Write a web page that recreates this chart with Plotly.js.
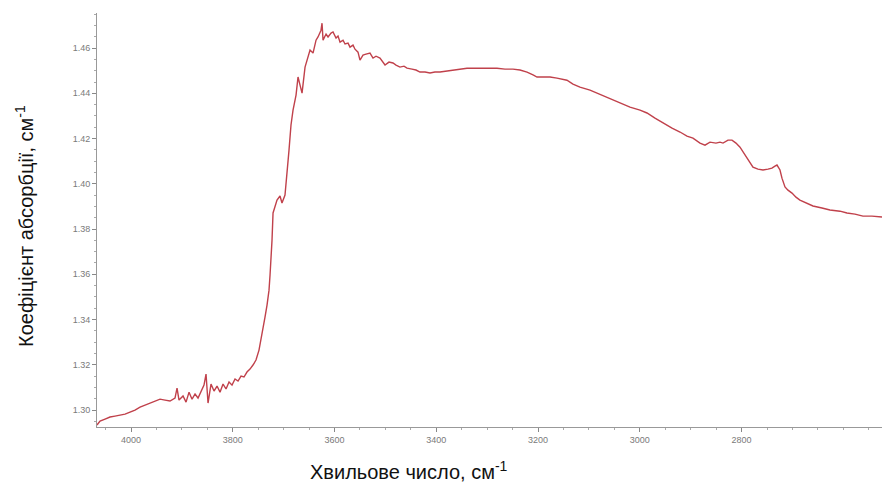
<!DOCTYPE html>
<html>
<head>
<meta charset="utf-8">
<script src="https://cdn.plot.ly/plotly-3.0.1.min.js"></script>
<style>
  html, body { margin: 0; padding: 0; background: #ffffff; }
  #chart { width: 882px; height: 483px; }
</style>
</head>
<body>
<div id="chart"></div>
<script>
// Wavenumber, cm^-1
const wavenumber = [
  4066.9, 4060.9, 4051.1, 4041.3, 4031.5, 4021.7, 4011.8, 4002.0, 3992.2, 3982.3,
  3972.5, 3962.7, 3952.9, 3943.0, 3933.2, 3923.4, 3913.6, 3909.6, 3905.7, 3897.8,
  3891.9, 3886.0, 3880.1, 3874.2, 3868.3, 3862.5, 3856.6, 3852.6, 3848.7, 3842.8,
  3836.9, 3831.0, 3825.1, 3819.2, 3813.3, 3807.4, 3801.5, 3795.6, 3789.7, 3783.8,
  3778.0, 3772.1, 3766.2, 3760.3, 3754.4, 3748.5, 3744.5, 3740.6, 3736.7, 3732.7,
  3728.8, 3726.8, 3724.9, 3722.9, 3720.9, 3717.0, 3713.1, 3707.2, 3703.3, 3697.4,
  3693.4, 3689.5, 3685.6, 3681.6, 3675.7, 3671.8, 3667.8, 3663.9, 3658.0, 3652.1,
  3648.2, 3642.3, 3636.4, 3632.5, 3626.6, 3624.6, 3622.6, 3616.7, 3612.8, 3606.9,
  3603.0, 3597.1, 3593.2, 3589.2, 3583.3, 3579.4, 3573.5, 3569.6, 3563.7, 3559.8,
  3553.9, 3550.0, 3544.1, 3538.2, 3530.3, 3524.4, 3518.5, 3510.7, 3504.8, 3500.8,
  3493.0, 3485.1, 3479.2, 3471.4, 3463.5, 3457.6, 3447.8, 3440.0, 3432.1, 3422.2,
  3412.4, 3402.7, 3392.7, 3379.0, 3367.2, 3353.4, 3339.7, 3325.9, 3314.1, 3298.4,
  3280.7, 3265.0, 3249.3, 3235.5, 3221.7, 3209.9, 3202.1, 3192.3, 3176.5, 3162.8,
  3151.0, 3143.2, 3131.4, 3117.7, 3097.9, 3084.2, 3064.5, 3042.9, 3019.3, 2999.6,
  2985.9, 2970.2, 2954.4, 2936.7, 2921.0, 2907.3, 2895.5, 2881.7, 2871.9, 2862.1,
  2850.3, 2842.4, 2836.5, 2826.7, 2818.8, 2811.0, 2803.1, 2795.2, 2789.4, 2783.5,
  2777.6, 2767.8, 2757.9, 2748.1, 2740.3, 2734.4, 2730.4, 2724.5, 2720.6, 2714.7,
  2708.8, 2700.9, 2693.1, 2685.3, 2673.5, 2659.7, 2642.0, 2626.3, 2606.6, 2592.9,
  2577.2, 2561.4, 2543.7, 2524.0
];
// Absorption coefficient, cm^-1
const absorption = [
  1.2934, 1.2951, 1.2960, 1.2969, 1.2973, 1.2978, 1.2982, 1.2991, 1.3000, 1.3013,
  1.3022, 1.3031, 1.3040, 1.3048, 1.3044, 1.3040, 1.3053, 1.3097, 1.3044, 1.3062,
  1.3035, 1.3079, 1.3048, 1.3071, 1.3053, 1.3084, 1.3110, 1.3159, 1.3031, 1.3115,
  1.3084, 1.3106, 1.3079, 1.3115, 1.3093, 1.3124, 1.3110, 1.3137, 1.3128, 1.3150,
  1.3146, 1.3168, 1.3181, 1.3199, 1.3221, 1.3265, 1.3309, 1.3353, 1.3411, 1.3464,
  1.3530, 1.3597, 1.3663, 1.3751, 1.3871, 1.3906, 1.3928, 1.3946, 1.3915, 1.3950,
  1.4039, 1.4149, 1.4260, 1.4326, 1.4392, 1.4472, 1.4436, 1.4401, 1.4516, 1.4556,
  1.4591, 1.4578, 1.4635, 1.4649, 1.4679, 1.4710, 1.4635, 1.4662, 1.4649, 1.4666,
  1.4671, 1.4644, 1.4653, 1.4626, 1.4635, 1.4618, 1.4622, 1.4604, 1.4613, 1.4595,
  1.4582, 1.4547, 1.4569, 1.4573, 1.4578, 1.4556, 1.4564, 1.4556, 1.4534, 1.4525,
  1.4538, 1.4534, 1.4525, 1.4516, 1.4520, 1.4511, 1.4507, 1.4503, 1.4494, 1.4494,
  1.4490, 1.4494, 1.4494, 1.4498, 1.4503, 1.4507, 1.4511, 1.4511, 1.4511, 1.4511,
  1.4511, 1.4507, 1.4507, 1.4503, 1.4494, 1.4481, 1.4472, 1.4472, 1.4472, 1.4467,
  1.4463, 1.4458, 1.4441, 1.4427, 1.4414, 1.4401, 1.4379, 1.4361, 1.4339, 1.4326,
  1.4313, 1.4290, 1.4268, 1.4246, 1.4229, 1.4211, 1.4202, 1.4180, 1.4171, 1.4184,
  1.4180, 1.4184, 1.4180, 1.4193, 1.4193, 1.4180, 1.4162, 1.4136, 1.4114, 1.4092,
  1.4074, 1.4065, 1.4061, 1.4065, 1.4069, 1.4078, 1.4083, 1.4061, 1.4025, 1.3986,
  1.3972, 1.3959, 1.3941, 1.3928, 1.3915, 1.3902, 1.3893, 1.3884, 1.3879, 1.3871,
  1.3866, 1.3857, 1.3857, 1.3853
];
const xTickVals = [4000, 3800, 3600, 3400, 3200, 3000, 2800];
const yTickVals = [1.30, 1.32, 1.34, 1.36, 1.38, 1.40, 1.42, 1.44, 1.46];
const xTitle = 'Хвильове число, см<sup>-1</sup>';
const yTitle = 'Коефіцієнт абсорбції, см<sup>-1</sup>';

const titleFont = { family: '"Liberation Sans", Arial, sans-serif', size: 20, color: '#111111' };
const tickFont = { family: '"Liberation Sans", Arial, sans-serif', size: 9, color: '#7a7a7a' };

const trace = {
  x: wavenumber,
  y: absorption,
  type: 'scatter',
  mode: 'lines',
  line: { color: '#c0414b', width: 1.4 },
  hoverinfo: 'x+y'
};

const layout = {
  width: 882,
  height: 483,
  margin: { l: 97, r: 0, t: 13, b: 56 },
  paper_bgcolor: '#ffffff',
  plot_bgcolor: '#ffffff',
  showlegend: false,
  xaxis: {
    range: [4066.9, 2524.0],
    autorange: false,
    tickmode: 'array',
    tickvals: xTickVals,
    ticktext: xTickVals.map(String),
    ticks: 'outside',
    ticklen: 4,
    tickcolor: '#888888',
    tickfont: tickFont,
    showgrid: false,
    zeroline: false,
    showline: true,
    linecolor: '#999999',
    linewidth: 1,
    minor: { dtick: 50, ticks: 'outside', ticklen: 2, tickcolor: '#aaaaaa', showgrid: false },
    fixedrange: true
  },
  yaxis: {
    range: [1.2925, 1.4755],
    autorange: false,
    tickmode: 'array',
    tickvals: yTickVals,
    ticktext: yTickVals.map(v => v.toFixed(2)),
    ticks: 'outside',
    ticklen: 4,
    tickcolor: '#888888',
    tickfont: tickFont,
    showgrid: false,
    zeroline: false,
    showline: true,
    linecolor: '#999999',
    linewidth: 1,
    minor: { dtick: 0.005, tick0: 1.30, ticks: 'outside', ticklen: 2, tickcolor: '#aaaaaa', showgrid: false },
    fixedrange: true
  },
  annotations: [
    {
      text: xTitle, xref: 'paper', yref: 'paper',
      x: 0.397, y: -0.104, xanchor: 'center', yanchor: 'middle',
      showarrow: false, font: titleFont
    },
    {
      text: yTitle, xref: 'paper', yref: 'paper',
      x: 0, y: 0.4855, xanchor: 'center', yanchor: 'middle',
      xshift: -73, textangle: -90, showarrow: false, font: titleFont
    }
  ]
};

Plotly.newPlot('chart', [trace], layout, { displayModeBar: false, staticPlot: true });
</script>
</body>
</html>
